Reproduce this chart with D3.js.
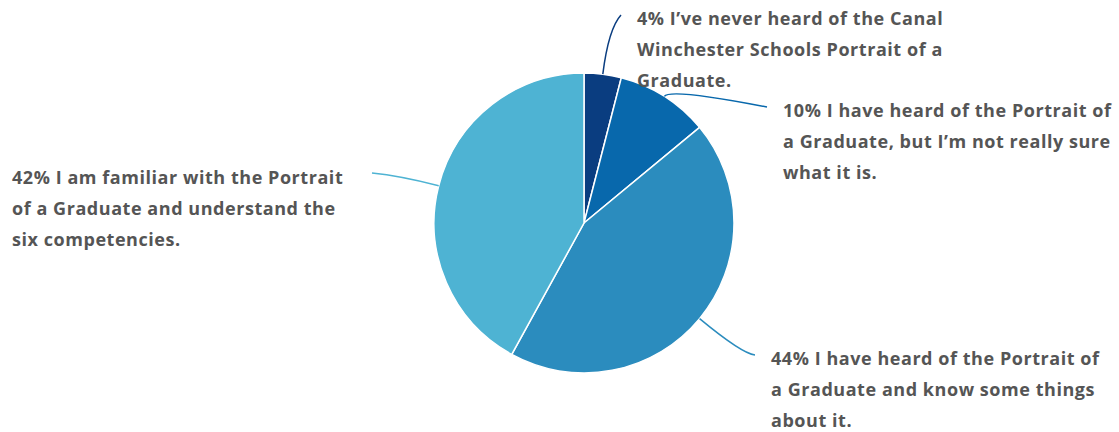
<!DOCTYPE html>
<html>
<head>
<meta charset="utf-8">
<script src="https://cdn.jsdelivr.net/npm/d3@7"></script>
<style>
  body { margin: 0; background: #fff; }
  svg text { font-family: "Open Sans", "Noto Sans", sans-serif; font-weight: 700; fill: #555; }
</style>
</head>
<body>
<svg width="1119" height="432"></svg>
<script>
var percents = [4, 10, 44, 42];
var labelLines = [
  ["4% I\u2019ve never heard of the Canal", "Winchester Schools Portrait of a", "Graduate."],
  ["10% I have heard of the Portrait of", "a Graduate, but I\u2019m not really sure", "what it is."],
  ["44% I have heard of the Portrait of", "a Graduate and know some things", "about it."],
  ["42% I am familiar with the Portrait", "of a Graduate and understand the", "six competencies."]
];
var colors = ["#0a3d80", "#0868ac", "#2b8cbe", "#4eb3d3"];

var svg = d3.select("svg"),
    width = +svg.attr("width"),
    height = +svg.attr("height");

var cx = 584, cy = 223, radius = 150;

// where each label block sits and where its leader line ends
var layout = [
  { x: 637, y: 18, endX: 621, endY: 15, elbow: 196 },
  { x: 783, y: 110, endX: 767, endY: 107, elbow: 160 },
  { x: 771, y: 358, endX: 755, endY: 355, elbow: 205 },
  { x: 12, y: 177, endX: 372, endY: 173, elbow: 190 }
];

var pie = d3.pie().sort(null).value(function(d) { return d; });
var arcs = pie(percents);

var arc = d3.arc().innerRadius(0).outerRadius(radius);

var g = svg.append("g").attr("transform", "translate(" + cx + "," + cy + ")");

g.selectAll(".slice")
  .data(arcs)
  .enter()
  .append("path")
    .attr("d", arc)
    .attr("fill", function(d, i) { return colors[i]; })
    .attr("stroke", "#fff")
    .attr("stroke-width", 1.5);

function pointAt(angle, r) {
  return [Math.sin(angle) * r, -Math.cos(angle) * r];
}

g.selectAll(".leader")
  .data(arcs)
  .enter()
  .append("path")
    .attr("fill", "none")
    .attr("stroke", function(d, i) { return colors[i]; })
    .attr("stroke-width", 1.5)
    .attr("d", function(d, i) {
      var mid = (d.startAngle + d.endAngle) / 2;
      var a = pointAt(mid, radius);
      var b = pointAt(mid, layout[i].elbow);
      var e = [layout[i].endX - cx, layout[i].endY - cy];
      return "M" + a + "Q" + b + " " + e;
    });

var labels = svg.selectAll(".label")
  .data(labelLines)
  .enter()
  .append("text")
    .attr("font-size", 18)
    .attr("letter-spacing", 0.55)
    .attr("dominant-baseline", "central");

labels.selectAll("tspan")
  .data(function(d, i) { return d.map(function(t) { return { t: t, i: i }; }); })
  .enter()
  .append("tspan")
    .attr("x", function(d) { return layout[d.i].x; })
    .attr("y", function(d, j) { return layout[d.i].y + j * 31; })
    .text(function(d) { return d.t; });
</script>
</body>
</html>
